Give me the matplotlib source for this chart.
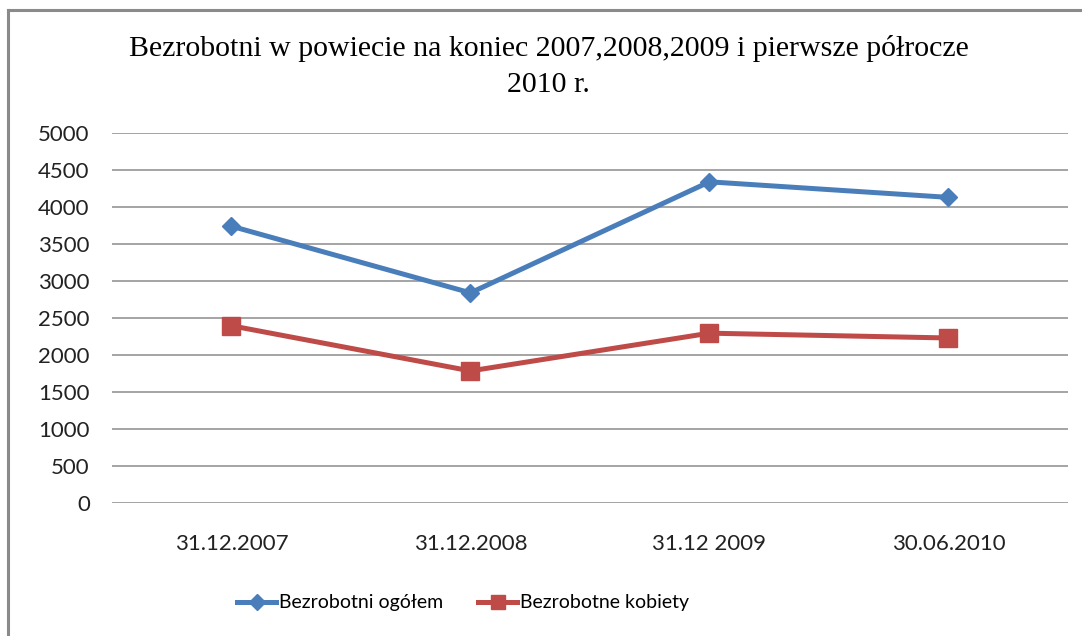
import matplotlib.pyplot as plt
from matplotlib.lines import Line2D

# Dane
daty = ["31.12.2007", "31.12.2008", "31.12 2009", "30.06.2010"]
ogolem = [3740, 2840, 4340, 4130]
kobiety = [2395, 1785, 2295, 2230]
y_ticks = [0, 500, 1000, 1500, 2000, 2500, 3000, 3500, 4000, 4500, 5000]

blue = "#4A7EBB"
red = "#BE4B48"
sans = "Lato"

fig = plt.figure(figsize=(10.82, 6.36), dpi=100)
ax = fig.add_axes([0.1035, 0.2091, 0.8835, 0.5818])

x = range(len(daty))
ax.plot(x, ogolem, color=blue, lw=3.6, marker="D", ms=9.5,
        mec=blue, mfc=blue, label="Bezrobotni ogółem", solid_capstyle="round")
ax.plot(x, kobiety, color=red, lw=3.6, marker="s", ms=12.5,
        mec=red, mfc=red, label="Bezrobotne kobiety", solid_capstyle="round")

ax.set_xlim(-0.5, 3.5)
ax.set_ylim(0, 5000)
ax.set_yticks(y_ticks)
ax.set_xticks(list(x))
ax.set_xticklabels(daty)
ax.grid(axis="y", color="#8c8c8c", lw=1.1)
ax.set_axisbelow(True)
for s in ax.spines.values():
    s.set_visible(False)
ax.tick_params(axis="y", length=0, pad=16, labelsize=16, labelcolor="#222222")
ax.tick_params(axis="x", length=0, pad=22, labelsize=16, labelcolor="#222222")
for lab in ax.get_xticklabels() + ax.get_yticklabels():
    lab.set_fontfamily(sans)

fig.text(0.507, 0.923, "Bezrobotni w powiecie na koniec 2007,2008,2009 i pierwsze półrocze",
         ha="center", va="center", family="Liberation Serif", fontsize=21.5)
fig.text(0.507, 0.866, "2010 r.", ha="center", va="center",
         family="Liberation Serif", fontsize=21.5)

handles = [Line2D([], [], color=blue, lw=3.6, marker="D", ms=8),
           Line2D([], [], color=red, lw=3.6, marker="s", ms=10)]
fig.legend(handles, ["Bezrobotni ogółem", "Bezrobotne kobiety"],
           loc="center", bbox_to_anchor=(0.428, 0.052), ncol=2, frameon=False,
           handlelength=2.0, handletextpad=0.15, columnspacing=1.8,
           prop={"family": sans, "size": 14})

# ramka wykresu (lewa i górna krawędź)
fig.add_artist(Line2D([0.0075, 0.0075], [0, 0.985], color="#8a8a8a", lw=2.2,
                      transform=fig.transFigure))
fig.add_artist(Line2D([0.0075, 1], [0.985, 0.985], color="#8a8a8a", lw=2.2,
                      transform=fig.transFigure))

fig.savefig("out.png", dpi=100)
